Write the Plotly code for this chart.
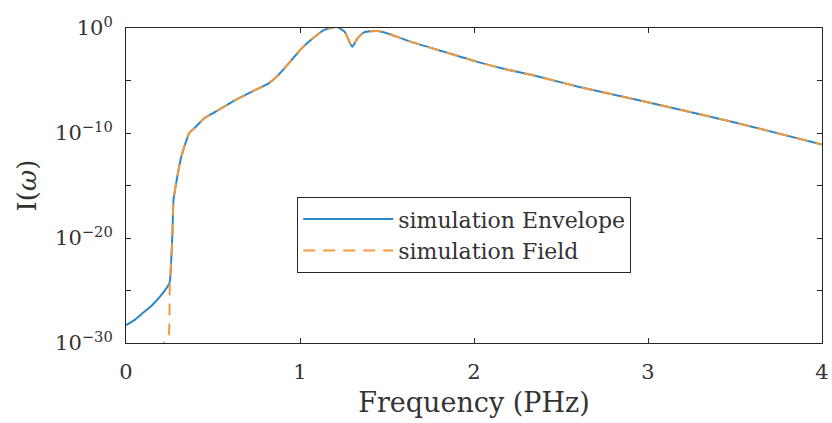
import plotly.graph_objects as go

# Envelope spectrum
env_freq = [0.0, 0.05, 0.10, 0.15, 0.20, 0.25, 0.26, 0.267, 0.273, 0.288, 0.317, 0.364,
            0.393, 0.45, 0.516, 0.63, 0.744, 0.82, 0.876, 0.952, 1.01, 1.085, 1.14, 1.21,
            1.256, 1.30, 1.33, 1.37, 1.445, 1.50, 1.635, 1.825, 2.014, 2.20, 2.34, 2.60,
            2.98, 3.5, 4.0]
env_I = [5e-29, 1.6e-28, 8e-28, 4e-27, 3.2e-26, 5e-25, 8e-23, 3.2e-20, 4e-17, 1.6e-15,
         5e-13, 1e-10, 2.8e-10, 2.5e-9, 1.07e-8, 1.4e-7, 1.26e-6, 5.4e-6, 3.3e-5, 8.9e-4,
         1.17e-2, 0.148, 0.65, 1.26, 0.45, 0.0166, 0.1, 0.4, 0.52, 0.32, 0.05, 5.6e-3,
         6.3e-4, 1e-4, 3.2e-5, 2.5e-6, 1e-7, 1e-9, 8e-12]

# Field spectrum: separate low-frequency start, then follows envelope
field_start_freq = [0.20, 0.22, 0.245, 0.25, 0.252]
field_start_I = [1e-31, 1.6e-30, 6e-30, 1e-27, 5e-25]
field_freq = field_start_freq + env_freq[6:]
field_I = field_start_I + env_I[6:]

ytick_vals = [1e0, 1e-5, 1e-10, 1e-15, 1e-20, 1e-25, 1e-30]
ytick_text = ["10<sup>0</sup>", "", "10<sup>\u221210</sup>", "", "10<sup>\u221220</sup>", "",
              "10<sup>\u221230</sup>"]
xtick_vals = [0, 1, 2, 3, 4]

FONT = "DejaVu Serif"
TXT = "#333333"
fig = go.Figure()
fig.add_trace(go.Scatter(x=env_freq, y=env_I, mode="lines", name="simulation Envelope",
                         line=dict(color="#2B87C9", width=2, shape="spline", smoothing=0.5)))
fig.add_trace(go.Scatter(x=field_freq, y=field_I, mode="lines", name="simulation Field",
                         line=dict(color="#F39A3C", width=2, dash="12px,8px", shape="spline", smoothing=0.5)))

axis_common = dict(showline=True, linecolor="#262626", linewidth=1, mirror="ticks",
                   ticks="inside", ticklen=5, tickcolor="#262626", showgrid=False, zeroline=False,
                   ticklabeloverflow="allow",
                   tickfont=dict(family=FONT, size=21, color=TXT))
fig.update_xaxes(range=[0, 4], tickvals=xtick_vals, ticklabelstandoff=10,
                 title=dict(text="Frequency (PHz)", standoff=9,
                            font=dict(family=FONT, size=27, color=TXT)), **axis_common)
fig.update_yaxes(type="log", range=[-30, 0], tickvals=ytick_vals, ticktext=ytick_text,
                 ticklabelstandoff=8,
                 title=dict(text="I(<i>\u03c9</i>)", standoff=10, font=dict(family=FONT, size=26, color=TXT)),
                 **axis_common)
fig.update_layout(width=832, height=423, margin=dict(l=126, r=3, t=28, b=80),
                  paper_bgcolor="white", plot_bgcolor="white",
                  legend=dict(x=0.246, y=0.463, xanchor="left", yanchor="top", bgcolor="white",
                              bordercolor="#262626", borderwidth=1, itemwidth=90,
                              font=dict(family=FONT, size=22, color=TXT)),
                  showlegend=True)
fig.write_html("out.html")
